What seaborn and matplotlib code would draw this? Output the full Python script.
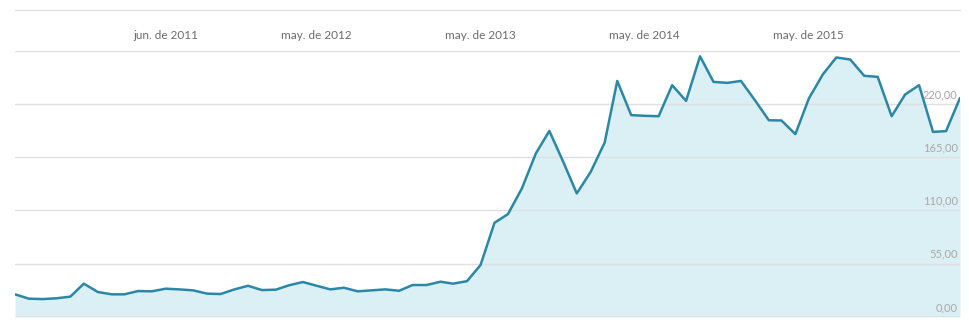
import numpy as np
import pandas as pd
import matplotlib
matplotlib.use("Agg")
import matplotlib.pyplot as plt
from matplotlib.lines import Line2D
import matplotlib.transforms as mtransforms
import seaborn as sns

# ---- data ----
start_month = "2010-07-01"
values = [23.4, 18.9, 18.5, 19.3, 21.0, 34.4, 25.8, 23.4, 23.4, 26.8,
          26.5, 29.2, 28.5, 27.5, 24.1, 23.7, 28.5, 32.2, 27.8, 28.2,
          32.7, 36.1, 32.3, 28.5, 30.2, 26.5, 27.5, 28.5, 27.1, 33.0,
          33.0, 36.4, 34.4, 37.0, 53.6, 97.2, 106.2, 132.7, 168.8, 192.0,
          160.0, 127.5, 149.8, 180.0, 243.6, 208.3, 207.6, 207.2, 239.2, 223.0,
          269.0, 242.6, 241.6, 243.6, 223.7, 203.0, 202.8, 188.7, 225.5, 250.3,
          267.8, 265.7, 248.9, 247.8, 207.2, 229.6, 239.2, 191.0, 191.8, 226.0]
tick_months = ["2011-06-01", "2012-05-01", "2013-05-01", "2014-05-01", "2015-05-01"]
tick_labels = ["jun. de 2011", "may. de 2012", "may. de 2013", "may. de 2014", "may. de 2015"]
y_ticks = [0, 55, 110, 165, 220]
y_labels = ["0,00", "55,00", "110,00", "165,00", "220,00"]
y_top = 275

months = pd.date_range(start_month, periods=len(values), freq="MS")
df = pd.DataFrame({"mes": months, "valor": values})

sns.set_theme(style="white")
plt.rcParams["font.family"] = ["Lato", "DejaVu Sans"]

W, H = 969, 323
fig = plt.figure(figsize=(W / 100, H / 100), dpi=100)
left, right, bottom, top = 15, 960, 317, 50.5
ax = fig.add_axes([left / W, 1 - bottom / H, (right - left) / W, (bottom - top) / H])

line_col = "#2b87a6"
fill_col = "#dbf0f4"
grid_col = "#e0e0e0"

ax.fill_between(df["mes"], df["valor"], 0, color=fill_col, lw=0, zorder=1)
sns.lineplot(data=df, x="mes", y="valor", ax=ax, color=line_col, lw=1.8, zorder=3)

ax.set_xlim(months[0], months[-1])
ax.set_ylim(0, y_top)

for yv in y_ticks[1:] + [y_top]:
    ax.axhline(yv, color=grid_col, lw=1, zorder=2)
ax.axhline(0, color=grid_col, lw=1.2, zorder=4)

for s in ax.spines.values():
    s.set_visible(False)

ax.set_yticks([])
ax.set_xlabel("")
ax.set_ylabel("")
ax.xaxis.tick_top()
ax.set_xticks(pd.to_datetime(tick_months))
ax.set_xticklabels(tick_labels, color="#6b6b6b", fontsize=8.5)
ax.tick_params(axis="x", length=0, pad=7)

trans = mtransforms.blended_transform_factory(ax.transAxes, ax.transData)
for yv, lab in zip(y_ticks, y_labels):
    ax.text(0.9975, yv + 4, lab, transform=trans, ha="right", va="bottom",
            fontsize=8, color="#a8a8a8", zorder=5)

fig.add_artist(Line2D([left / W, right / W], [1 - 10 / H, 1 - 10 / H],
                      color=grid_col, lw=1, transform=fig.transFigure))

fig.savefig("out.png", dpi=100, facecolor="white")
